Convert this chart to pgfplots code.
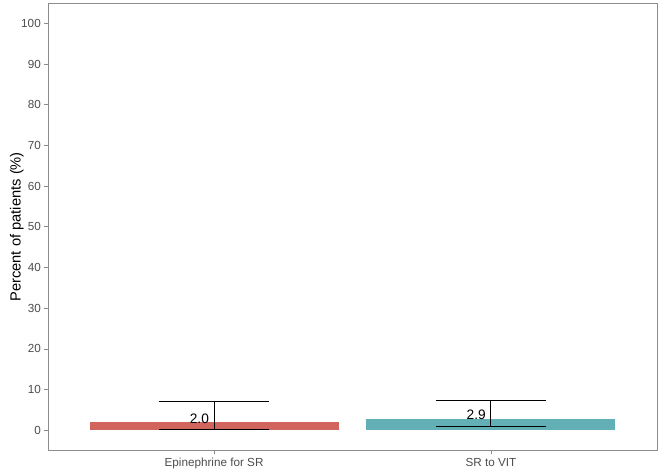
\documentclass[border=0pt]{standalone}
\usepackage{fontspec}
\setmainfont{Liberation Sans}
\usepackage{pgfplots}
\pgfplotsset{compat=1.18}
\usepackage{xcolor}

\definecolor{barred}{RGB}{209,101,94}
\definecolor{barteal}{RGB}{98,176,181}
\definecolor{framegray}{RGB}{140,140,140}
\definecolor{labgray}{RGB}{77,77,77}

\begin{document}
\begin{tikzpicture}
\useasboundingbox (-48pt,-21.3pt) rectangle (616pt,450.7pt);
\begin{axis}[
  scale only axis,
  width=609pt, height=447.7pt,
  xmin=0.4, xmax=2.6,
  ymin=-5, ymax=105,
  xtick={1,2},
  xticklabels={Epinephrine for SR, SR to VIT},
  ytick={0,10,...,100},
  axis line style={framegray, line width=0.8pt},
  tick style={framegray, line width=0.8pt},
  tick align=outside,
  major tick length=3.7pt,
  xtick pos=bottom, ytick pos=left,
  /pgf/number format/assume math mode=true,
  ticklabel style={font=\fontsize{11.7}{13}\selectfont, text=labgray},
  ylabel={Percent of patients (\%)},
  ylabel style={font=\fontsize{14.7}{17}\selectfont, at={(axis description cs:-0.051,0.5)}, anchor=center},
  clip=false,
]
\addplot[ybar, bar shift=0pt, bar width=0.9, fill=barred, draw=none] coordinates {(1,2.0)};
\addplot[ybar, bar shift=0pt, bar width=0.9, fill=barteal, draw=none] coordinates {(2,2.9)};
\addplot[draw=none, mark=none,
  error bars/.cd, y dir=both, y explicit,
  error bar style={draw=black, line width=1.1pt},
  error mark options={draw=black, line width=1.1pt, mark size=55.4pt, rotate=90}]
  coordinates {(1,2.0) += (0,5.0) -= (0,1.76)
               (2,2.9) += (0,4.4) -= (0,2.0)};
\node[anchor=east, inner sep=0pt, font=\fontsize{13.7}{16}\selectfont] at (axis cs:0.982,2.95) {2.0};
\node[anchor=east, inner sep=0pt, font=\fontsize{13.7}{16}\selectfont] at (axis cs:1.982,3.8) {2.9};
\end{axis}
\end{tikzpicture}
\end{document}
